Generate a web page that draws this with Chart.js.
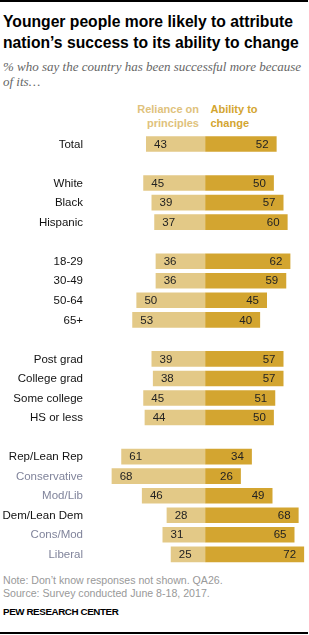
<!DOCTYPE html>
<html>
<head>
<meta charset="utf-8">
<script src="https://cdn.jsdelivr.net/npm/chart.js"></script>
<style>
body{margin:0;width:309px;height:635px;position:relative;background:#fff;overflow:hidden;font-family:"Liberation Sans",Arial,sans-serif}
.rule{position:absolute;left:0;width:308px;height:2px;background:#000}
#title{position:absolute;left:3px;top:11px;font-weight:bold;font-size:15.7px;line-height:21px;color:#000;white-space:nowrap}
#sub{position:absolute;left:3px;top:58.8px;font-family:"Liberation Serif","Times New Roman",serif;font-style:italic;font-size:13px;line-height:15px;color:#666;white-space:nowrap}
.leg{position:absolute;top:101.5px;font-weight:bold;font-size:11px;line-height:14px;white-space:nowrap}
#legL{right:110px;text-align:right;color:#e0c27c}
#legR{left:210.5px;color:#d3a530}
#note{position:absolute;left:3px;top:573.5px;font-size:10.6px;line-height:13.3px;color:#999;white-space:nowrap}
#pew{position:absolute;left:3px;top:605.4px;font-size:9.8px;font-weight:bold;letter-spacing:-0.4px;line-height:14px;color:#000;white-space:nowrap}
canvas{position:absolute;left:0;top:125px}
</style>
</head>
<body>
<div class="rule" style="top:0"></div>
<div id="title">Younger people more likely to attribute<br>nation’s success to its ability to change</div>
<div id="sub">% who say the country has been successful more because<br>of its…</div>
<div class="leg" id="legL">Reliance on<br>principles</div>
<div class="leg" id="legR">Ability to<br>change</div>
<canvas id="myChart" width="309" height="445"></canvas>
<div id="note">Note: Don’t know responses not shown. QA26.<br>Source: Survey conducted June 8-18, 2017.</div>
<div id="pew">PEW RESEARCH CENTER</div>
<div class="rule" style="top:631.5px"></div>
<script>
const categories = ['Total', '', 'White', 'Black', 'Hispanic', '', '18-29', '30-49', '50-64', '65+', '',
	'Post grad', 'College grad', 'Some college', 'HS or less', '',
	'Rep/Lean Rep', 'Conservative', 'Mod/Lib', 'Dem/Lean Dem', 'Cons/Mod', 'Liberal']
const reliance = [43, null, 45, 39, 37, null, 36, 36, 50, 53, null, 39, 38, 45, 44, null, 61, 68, 46, 28, 31, 25]
const ability = [52, null, 50, 57, 60, null, 62, 59, 45, 40, null, 57, 57, 51, 50, null, 34, 26, 49, 68, 65, 72]
// sub-groups drawn in grey
const subGroups = ['Conservative', 'Mod/Lib', 'Cons/Mod', 'Liberal']

const labelPlugin = {
	id: 'labels',
	afterDatasetsDraw(chart){
		const c = chart.ctx
		const y = chart.scales.y
		c.save()
		c.textBaseline = 'middle'
		c.font = '11.5px "Liberation Sans", Arial, sans-serif'
		// category names
		c.textAlign = 'right'
		categories.forEach((name, i) => {
			if(!name) return
			c.fillStyle = subGroups.includes(name) ? '#80849b' : '#111'
			c.fillText(name, 83, y.getPixelForValue(i) + 0.5)
		})
		// values inside bars
		c.fillStyle = '#222'
		chart.getDatasetMeta(0).data.forEach((bar, i) => {
			if(reliance[i] == null) return
			c.textAlign = 'left'
			c.fillText(reliance[i], bar.x + 8, bar.y + 0.5)
		})
		chart.getDatasetMeta(1).data.forEach((bar, i) => {
			if(ability[i] == null) return
			c.textAlign = 'right'
			c.fillText(ability[i], bar.x - 8, bar.y + 0.5)
		})
		c.restore()
	}
}

new Chart(document.getElementById('myChart'), {
	type: 'bar',
	data: {
		labels: categories,
		datasets: [
			{label: 'Reliance on principles', data: reliance.map(v => v == null ? null : -v), backgroundColor: '#e3c987'},
			{label: 'Ability to change', data: ability, backgroundColor: '#d3a530'}
		]
	},
	options: {
		indexAxis: 'y',
		responsive: false,
		animation: false,
		layout: {padding: {left: 91, right: 0.75, top: 9.2, bottom: 5.9}},
		datasets: {bar: {categoryPercentage: 1, barPercentage: 0.8}},
		scales: {
			x: {stacked: true, min: -83, max: 75, display: false},
			y: {stacked: true, display: false}
		},
		plugins: {legend: {display: false}, tooltip: {enabled: false}}
	},
	plugins: [labelPlugin]
})
</script>
</body>
</html>
